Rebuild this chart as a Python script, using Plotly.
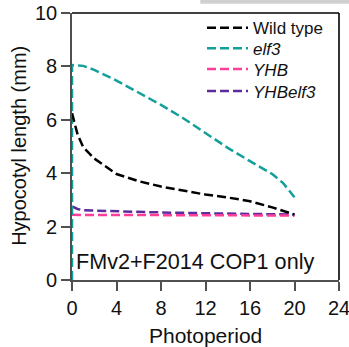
import plotly.graph_objects as go

# Data
wt_x = [0, 0.5, 1, 2, 4, 6, 8, 10, 12, 14, 16, 18, 20]
wt_y = [6.25, 5.45, 4.98, 4.55, 3.97, 3.7, 3.5, 3.34, 3.2, 3.09, 2.95, 2.72, 2.45]

elf3_x = [0, 0, 1, 2, 4, 6, 8, 10, 12, 14, 16, 18, 19, 20]
elf3_y = [0, 8.05, 8.02, 7.87, 7.47, 7.02, 6.56, 6.06, 5.52, 4.95, 4.45, 3.97, 3.62, 3.1]

yhb_x = [0, 4, 8, 12, 16, 20]
yhb_y = [2.44, 2.44, 2.43, 2.43, 2.42, 2.41]

yhbelf3_x = [0, 0.5, 1, 4, 8, 12, 16, 20]
yhbelf3_y = [2.76, 2.66, 2.61, 2.57, 2.53, 2.5, 2.48, 2.45]

x_ticks = [0, 4, 8, 12, 16, 20, 24]
y_ticks = [0, 2, 4, 6, 8, 10]

FONT = "Liberation Sans, Arial, sans-serif"
DASH = "9px,4px"
LW = 2.5
LEG_X = 0.487
LEG_FONT = dict(family=FONT, size=17, color="#111111")


def leg(ypix):
    return dict(x=LEG_X, y=(280.0 - ypix) / 267.0, xanchor="left", yanchor="middle",
                bgcolor="rgba(0,0,0,0)", borderwidth=0, font=LEG_FONT, itemwidth=41)


fig = go.Figure()
fig.add_trace(go.Scatter(x=yhbelf3_x, y=yhbelf3_y, mode="lines", name="<i>YHBelf3</i>",
                         line=dict(color="#5b2c9a", width=LW, dash=DASH), legend="legend4"))
fig.add_trace(go.Scatter(x=yhb_x, y=yhb_y, mode="lines", name="<i>YHB</i>",
                         line=dict(color="#ff3d9a", width=LW, dash=DASH), legend="legend3"))
fig.add_trace(go.Scatter(x=elf3_x, y=elf3_y, mode="lines", name="<i>elf3</i>",
                         line=dict(color="#13a09a", width=LW, dash=DASH), legend="legend2"))
fig.add_trace(go.Scatter(x=wt_x, y=wt_y, mode="lines", name="Wild type",
                         line=dict(color="#000000", width=LW, dash=DASH), legend="legend"))

axis_common = dict(
    showgrid=False, zeroline=False, showline=True, automargin=False,
    linecolor="#505050", linewidth=1.7, ticklabeloverflow="allow",
    ticks="outside", ticklen=9, tickwidth=1.7, tickcolor="#505050",
    tickfont=dict(family=FONT, size=20, color="#111111"),
)
fig.update_xaxes(range=[0, 24], tickvals=x_ticks, ticktext=[str(v) for v in x_ticks], **axis_common)
fig.update_yaxes(range=[0, 10], tickvals=y_ticks, ticktext=[str(v) for v in y_ticks], **axis_common)

fig.update_layout(
    width=349, height=347,
    margin=dict(l=72, r=10, t=13, b=67, autoexpand=False),
    paper_bgcolor="white", plot_bgcolor="white",
    font=dict(family=FONT, color="#111111"),
    showlegend=True,
    legend=leg(28.3), legend2=leg(48.6), legend3=leg(69.5), legend4=leg(91.5),
    shapes=[
        dict(type="line", xref="x domain", yref="y domain", x0=0, x1=1, y0=1, y1=1,
             layer="above", line=dict(color="#000000", width=1.6)),
        dict(type="line", xref="x domain", yref="y domain", x0=1, x1=1, y0=0, y1=1,
             layer="above", line=dict(color="#000000", width=1.6)),
        dict(type="rect", xref="paper", yref="paper", x0=0.4805, x1=1.04, y0=1.035, y1=1.06,
             line=dict(width=0), fillcolor="#d0d0d0"),
    ],
    annotations=[
        dict(text="FMv2+F2014 COP1 only", x=11.1, y=0.69, xref="x", yref="y",
             showarrow=False, font=dict(family=FONT, size=21.6, color="#111111")),
        dict(text="Photoperiod", x=0.499, y=-0.208, xref="paper", yref="paper",
             xanchor="center", yanchor="middle", showarrow=False,
             font=dict(family=FONT, size=21, color="#111111")),
        dict(text="Hypocotyl length (mm)", x=-0.197, y=0.504, xref="paper", yref="paper",
             xanchor="center", yanchor="middle", textangle=-90, showarrow=False,
             font=dict(family=FONT, size=20, color="#111111")),
    ],
)

fig.write_html("out.html", config={"displayModeBar": False},
               post_script="document.body.style.margin='0';")
